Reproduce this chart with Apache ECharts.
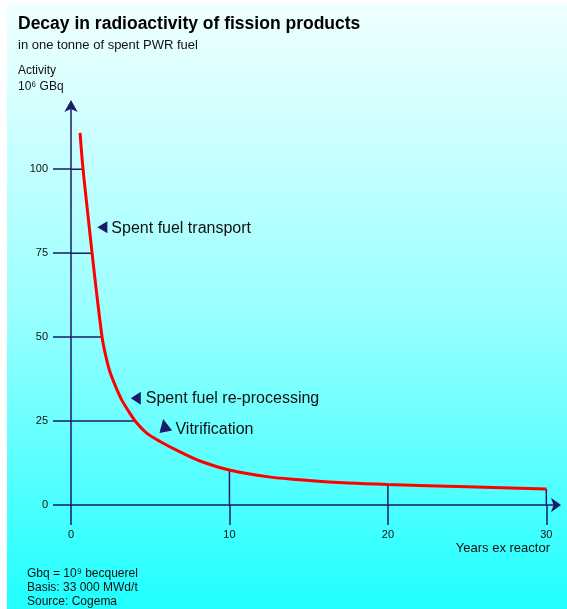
<!DOCTYPE html>
<html>
<head>
<meta charset="utf-8">
<script src="https://cdn.jsdelivr.net/npm/echarts@6/dist/echarts.min.js"></script>
<style>
html,body{margin:0;padding:0;background:#fff;}
#main{width:567px;height:609px;}
</style>
</head>
<body>
<div id="main"></div>
<script>
// ---- data ----
const years    = [0.57, 0.76, 1.04, 1.33, 1.64, 1.96, 2.15, 2.42, 2.78, 3.2, 3.72, 4.1, 4.78, 5.62, 6.88, 8.14, 10, 12.6, 15, 17.5, 20, 25, 30];
const activity = [110.8, 100, 87.6, 75, 62.2, 50, 45.3, 40.2, 35.7, 31.3, 27.3, 24.7, 21.4, 18.9, 15.8, 13.1, 10.4, 8.3, 7.3, 6.55, 6.1, 5.45, 4.8];

const yTickValues = [0, 25, 50, 75, 100];
const xTickValues = [0, 10, 20, 30];

// horizontal guide lines: activity level -> year where the curve reaches it
const hGuideValues = [100, 75, 50, 25];
const hGuideYears  = [0.76, 1.33, 1.96, 4.06];
// vertical guide lines: year -> activity on the curve
const vGuideYears  = [10, 20, 30];
const vGuideValues = [10.4, 6.1, 4.8];

// annotations (arrow head location in data units)
const noteTexts  = ['Spent fuel transport', 'Spent fuel re-processing', 'Vitrification'];
const noteYears  = [1.98, 4.09, 5.9];
const noteValues = [82.7, 31.75, 23.7];

const title    = 'Decay in radioactivity of fission products';
const subtitle = 'in one tonne of spent PWR fuel';
const yName1   = 'Activity';
const yName2   = '10\u2076 GBq';
const xName    = 'Years ex reactor';
const notes    = ['Gbq = 10\u2079 becquerel', 'Basis: 33 000 MWd/t', 'Source: Cogema'];

// ---- chart ----
const FONT = "'Liberation Sans', Arial, Helvetica, sans-serif";
const NAVY = '#1b1b6b';
const TXT = '#111111';

const chart = echarts.init(document.getElementById('main'), null, {renderer: 'canvas'});

const series = [];
hGuideValues.forEach((v, i) => {
  series.push({
    type: 'line', silent: true, symbol: 'none', z: 1, animation: false,
    lineStyle: {color: NAVY, width: 1.5},
    data: [[0, v], [hGuideYears[i], v]]
  });
});
vGuideYears.forEach((y, i) => {
  series.push({
    type: 'line', silent: true, symbol: 'none', z: 1, animation: false,
    lineStyle: {color: NAVY, width: 1.5},
    data: [[y, 0], [y, vGuideValues[i]]]
  });
});
series.push({
  type: 'line', name: 'Activity', symbol: 'none', z: 3, animation: false,
  smooth: 0.3,
  lineStyle: {color: '#ff0000', width: 3},
  data: years.map((y, i) => [y, activity[i]])
});
// arrow heads
const rot = [90, 90, 12];
const sizes = [[12, 10], [13, 10], [13, 13]];
series.push({
  type: 'scatter', silent: true, z: 4, animation: false,
  symbol: 'triangle',
  itemStyle: {color: NAVY, opacity: 1},
  data: noteYears.map((y, i) => ({value: [y, noteValues[i]], symbolRotate: rot[i], symbolSize: sizes[i]}))
});
// annotation texts
const dist = [4, 5, 6];
const offs = [[0, 1], [0, 0], [0, 4]];
series.push({
  type: 'scatter', silent: true, z: 5, animation: false,
  symbolSize: 10,
  itemStyle: {color: 'rgba(0,0,0,0)', opacity: 1},
  data: noteYears.map((y, i) => ({
    value: [y, noteValues[i]],
    label: {show: true, position: 'right', distance: dist[i], offset: offs[i],
            formatter: noteTexts[i], fontSize: 16, fontFamily: FONT, color: TXT, opacity: 1}
  }))
});

const option = {
  animation: false,
  grid: {left: 71, right: 8, top: 102, bottom: 104, containLabel: false},
  xAxis: {
    type: 'value', min: 0, max: 30.8,
    splitLine: {show: false},
    axisLine: {show: true, lineStyle: {color: NAVY, width: 1.5}, symbol: ['none', 'arrow'], symbolSize: [11, 10], symbolOffset: [0, 2]},
    axisTick: {show: true, inside: false, length: 20, lineStyle: {color: NAVY, width: 1.5}, customValues: xTickValues},
    axisLabel: {show: true, margin: 24, fontSize: 11, fontFamily: FONT, color: TXT, customValues: xTickValues}
  },
  yAxis: {
    type: 'value', min: 0, max: 120,
    splitLine: {show: false},
    axisLine: {show: true, onZero: false, lineStyle: {color: NAVY, width: 1.5}, symbol: ['none', 'arrow'], symbolSize: [10, 12], symbolOffset: [0, 2]},
    axisTick: {show: true, inside: false, length: 18, lineStyle: {color: NAVY, width: 1.5}, customValues: yTickValues},
    axisLabel: {show: true, margin: 23, fontSize: 11, fontFamily: FONT, color: TXT, customValues: yTickValues}
  },
  graphic: [
    {
      type: 'rect', z: -10, silent: true,
      shape: {x: 7, y: 3, width: 560, height: 606},
      style: {fill: new echarts.graphic.LinearGradient(0, 0, 0, 1, [
        {offset: 0, color: '#f0ffff'},
        {offset: 0.5, color: '#9cffff'},
        {offset: 1, color: '#20ffff'}
      ])}
    },
    {type: 'text', x: 18, y: 24, silent: true,
     style: {text: title, font: 'bold 17.5px ' + FONT, fill: '#000', textVerticalAlign: 'middle'}},
    {type: 'text', x: 18, y: 45, silent: true,
     style: {text: subtitle, font: '13px ' + FONT, fill: TXT, textVerticalAlign: 'middle'}},
    {type: 'text', x: 18, y: 71, silent: true,
     style: {text: yName1, font: '12px ' + FONT, fill: TXT, textVerticalAlign: 'middle'}},
    {type: 'text', x: 18, y: 87, silent: true,
     style: {text: yName2, font: '12px ' + FONT, fill: TXT, textVerticalAlign: 'middle'}},
    {type: 'text', x: 550, y: 548, silent: true,
     style: {text: xName, font: '13px ' + FONT, fill: TXT, textAlign: 'right', textVerticalAlign: 'middle'}},
    {type: 'text', x: 27, y: 574, silent: true,
     style: {text: notes[0], font: '12px ' + FONT, fill: TXT, textVerticalAlign: 'middle'}},
    {type: 'text', x: 27, y: 588, silent: true,
     style: {text: notes[1], font: '12px ' + FONT, fill: TXT, textVerticalAlign: 'middle'}},
    {type: 'text', x: 27, y: 602, silent: true,
     style: {text: notes[2], font: '12px ' + FONT, fill: TXT, textVerticalAlign: 'middle'}}
  ],
  series: series
};
chart.setOption(option);
</script>
</body>
</html>
